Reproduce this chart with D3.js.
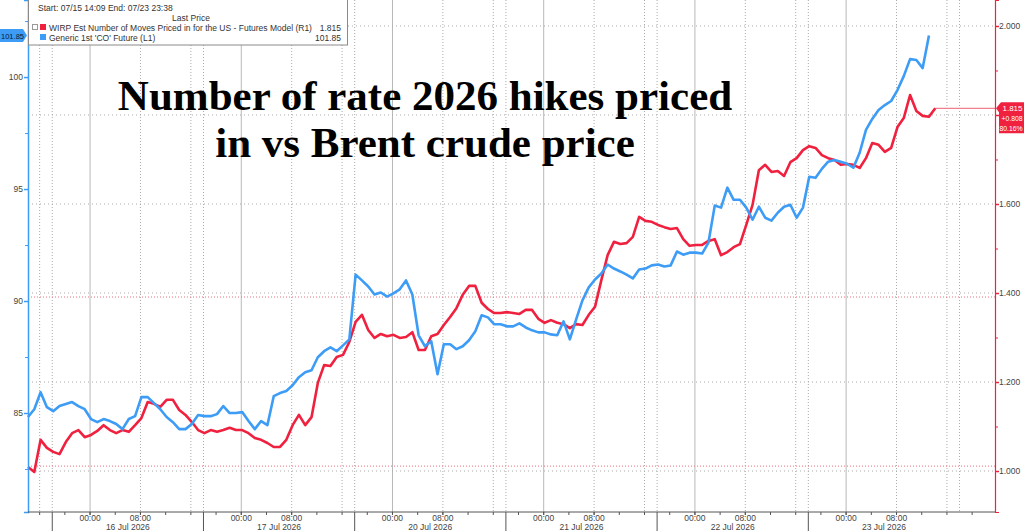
<!DOCTYPE html>
<html><head><meta charset="utf-8">
<script src="https://cdn.jsdelivr.net/npm/d3@7"></script>
<style>body{margin:0;background:#fff;} svg{display:block;}</style>
</head><body><svg id="c" width="1024" height="531"></svg>
<script>
// ---------- data ----------
const sessionDays = ["16 Jul 2026","17 Jul 2026","20 Jul 2026","21 Jul 2026","22 Jul 2026","23 Jul 2026"];
const hourLabels = ["00:00","08:00"];
const leftTicks = [85, 90, 95, 100];
const rightTicks = [1.0, 1.2, 1.4, 1.6, 1.8, 2.0];
const rightTickLabels = ["1.000", "1.200", "1.400", "1.600", "", "2.000"]; // 1.800 hidden behind last-price tag
const refLevels = [1.391, 1.011];
const legendHeader = "Start: 07/15 14:09 End: 07/23 23:38";
const seriesNames = ["WIRP Est Number of Moves Priced in for the US - Futures Model  (R1)", "Generic 1st 'CO' Future  (L1)"];
const lastValues = ["1.815", "101.85"];
const changeLabels = ["+0.808", "80.16%"];
const titleLines = ["Number of rate 2026 hikes priced", "in vs Brent crude price"];
// hourly samples; hour 0 = first session start (15 Jul 18:00), first sample 15 Jul 14:09
const sampleStartHour = -3.85;
const endHour = 149.63;
const brent = [84.82, 85.17, 85.93, 85.26, 85.08, 85.31, 85.40, 85.49, 85.31, 85.17,
 84.73, 84.59, 84.73, 84.64, 84.51, 84.28, 84.73, 84.86, 85.71, 85.71,
 85.44, 85.17, 84.82, 84.59, 84.28, 84.28, 84.51, 84.91, 84.86, 84.86,
 84.95, 85.31, 85.00, 85.00, 85.04, 84.64, 84.28, 84.64, 84.46, 85.75,
 85.89, 85.98, 86.24, 86.60, 86.82, 86.91, 87.49, 87.76, 87.93, 87.76,
 88.02, 88.29, 91.18, 90.92, 90.65, 90.29, 90.38, 90.20, 90.34, 90.52,
 90.92, 90.29, 88.47, 87.98, 88.20, 86.73, 88.07, 88.07, 87.85, 87.98,
 88.25, 88.65, 89.36, 89.27, 88.96, 88.96, 88.87, 88.87, 89.00, 88.82,
 88.69, 88.60, 88.60, 88.51, 88.47, 89.09, 88.29, 89.18, 90.03, 90.61,
 90.96, 91.23, 91.63, 91.45, 91.32, 91.18, 91.01, 91.41, 91.45, 91.59,
 91.63, 91.54, 91.59, 92.21, 92.07, 92.16, 92.16, 92.12, 92.61, 94.26,
 94.17, 95.06, 94.52, 94.52, 94.17, 93.63, 94.21, 93.72, 93.59, 93.94,
 94.21, 94.30, 93.72, 94.17, 95.55, 95.50, 95.90, 96.22, 96.30, 96.22,
 96.13, 95.95, 96.62, 97.64, 98.13, 98.53, 98.75, 98.93, 99.42, 100.04,
 100.80, 100.76, 100.40, 101.85];
const wirp = [1.009, 0.998, 1.070, 1.052, 1.043, 1.038, 1.065, 1.085, 1.092, 1.076,
 1.081, 1.090, 1.103, 1.092, 1.085, 1.092, 1.088, 1.103, 1.119, 1.155,
 1.151, 1.144, 1.160, 1.160, 1.137, 1.126, 1.110, 1.092, 1.085, 1.092,
 1.088, 1.092, 1.097, 1.092, 1.092, 1.085, 1.074, 1.070, 1.063, 1.054,
 1.054, 1.070, 1.103, 1.126, 1.103, 1.121, 1.198, 1.238, 1.236, 1.256,
 1.261, 1.290, 1.335, 1.351, 1.317, 1.299, 1.308, 1.303, 1.306, 1.299,
 1.301, 1.312, 1.272, 1.272, 1.303, 1.308, 1.328, 1.346, 1.366, 1.396,
 1.416, 1.416, 1.378, 1.364, 1.355, 1.355, 1.357, 1.355, 1.353, 1.362,
 1.362, 1.342, 1.333, 1.339, 1.333, 1.330, 1.321, 1.330, 1.328, 1.351,
 1.369, 1.429, 1.485, 1.515, 1.510, 1.512, 1.526, 1.571, 1.562, 1.560,
 1.553, 1.548, 1.544, 1.546, 1.521, 1.506, 1.508, 1.508, 1.517, 1.521,
 1.485, 1.492, 1.503, 1.510, 1.553, 1.598, 1.676, 1.688, 1.672, 1.674,
 1.663, 1.694, 1.703, 1.721, 1.730, 1.726, 1.710, 1.703, 1.699, 1.688,
 1.690, 1.688, 1.681, 1.703, 1.737, 1.733, 1.717, 1.726, 1.773, 1.793,
 1.845, 1.809, 1.798, 1.796, 1.815];

// ---------- layout ----------
const BLUE = "#3d9cf5", RED = "#f0203f", GRID = "#aaaaaa", TXT = "#444";
const L = 28, R = 995, T = 0, B = 512;
const svg = d3.select("#c");
const x = d3.scaleLinear().domain([sampleStartHour, endHour]).range([L, R]);
const yL = d3.scaleLinear().domain([80.58, 103.44]).range([B, T]);
const yR = d3.scaleLinear().domain([0.9079, 2.0584]).range([B, T]);
const font = "'Liberation Sans', Arial, sans-serif";

// vertical gridlines
const nDays = sessionDays.length;
const vSolid = [], vDot = [], minor = [];
for (let k = -1; k <= nDays; k++) {
  const base = k * 24;
  vSolid.push(base + 6);
  [0, 14, 22].forEach(h => vDot.push(base + h));
  for (let h = 0; h < 24; h += 4) minor.push(base + h + 2);
}
const inX = h => h > sampleStartHour && h < endHour;
const g = svg.append("g");
g.selectAll(".vs").data(vSolid.filter(inX)).join("line")
  .attr("x1", d => x(d)).attr("x2", d => x(d)).attr("y1", T).attr("y2", B)
  .attr("stroke", "#b8b8b8").attr("stroke-width", 1);
g.selectAll(".vd").data(vDot.filter(inX)).join("line")
  .attr("x1", d => x(d)).attr("x2", d => x(d)).attr("y1", T).attr("y2", B)
  .attr("stroke", GRID).attr("stroke-width", 1).attr("stroke-dasharray", "1,2");
g.selectAll(".hd").data(rightTicks).join("line")
  .attr("x1", L).attr("x2", R).attr("y1", d => yR(d)).attr("y2", d => yR(d))
  .attr("stroke", GRID).attr("stroke-dasharray", "1,3");
g.selectAll(".hr").data(refLevels).join("line")
  .attr("x1", L).attr("x2", R).attr("y1", d => yR(d)).attr("y2", d => yR(d))
  .attr("stroke", "#f07080").attr("stroke-dasharray", "1,2");

// series
const hoursOf = i => sampleStartHour + i;
const lineR = d3.line().x((d, i) => x(hoursOf(i))).y(d => yR(d));
const lineL = d3.line().x((d, i) => x(hoursOf(i))).y(d => yL(d));
const lastR = wirp[wirp.length - 1];
svg.append("line").attr("x1", x(hoursOf(wirp.length - 1))).attr("x2", R)
  .attr("y1", yR(lastR)).attr("y2", yR(lastR)).attr("stroke", "#f08090").attr("stroke-width", 1.2);
svg.append("path").datum(wirp).attr("d", lineR).attr("fill", "none")
  .attr("stroke", RED).attr("stroke-width", 2.6).attr("stroke-linejoin", "round");
svg.append("path").datum(brent).attr("d", lineL).attr("fill", "none")
  .attr("stroke", BLUE).attr("stroke-width", 2.6).attr("stroke-linejoin", "round");

// left axis
const axL = svg.append("g").attr("transform", `translate(${L},0)`)
  .call(d3.axisLeft(yL).tickValues(leftTicks).tickSize(4).tickFormat(d3.format("d")));
axL.select(".domain").attr("stroke", BLUE).attr("stroke-width", 1.5);
axL.selectAll(".tick line").attr("stroke", BLUE).attr("stroke-width", 1.5);
axL.selectAll("text").attr("fill", TXT).attr("font-family", font).attr("font-size", 8.5).attr("x", -5);
svg.append("g").attr("transform", `translate(${L},0)`)
  .call(d3.axisLeft(yL).tickValues([82.5, 87.5, 92.5, 97.5, 102.5]).tickSize(3).tickFormat(""))
  .call(s => { s.select(".domain").remove(); s.selectAll("line").attr("stroke", BLUE); });

// right axis
const axR = svg.append("g").attr("transform", `translate(${R},0)`)
  .call(d3.axisRight(yR).tickValues(rightTicks).tickSize(4).tickFormat((d, i) => rightTickLabels[i]));
axR.select(".domain").attr("stroke", RED).attr("stroke-width", 1.2);
axR.selectAll(".tick line").attr("stroke", RED).attr("stroke-width", 1.5);
axR.selectAll("text").attr("fill", TXT).attr("font-family", font).attr("font-size", 8.5).attr("x", 4);
svg.append("g").attr("transform", `translate(${R},0)`)
  .call(d3.axisRight(yR).tickValues([1.1, 1.3, 1.5, 1.7, 1.9]).tickSize(3).tickFormat(""))
  .call(s => { s.select(".domain").remove(); s.selectAll("line").attr("stroke", RED); });

// bottom axis
const xa = svg.append("g");
xa.append("line").attr("x1", L).attr("x2", R).attr("y1", B).attr("y2", B).attr("stroke", "#555");
xa.selectAll(".mt").data(minor.filter(inX)).join("line")
  .attr("x1", d => x(d)).attr("x2", d => x(d)).attr("y1", B).attr("y2", B + 3).attr("stroke", "#555");
xa.selectAll(".mt2").data(vSolid.concat(vDot.filter(h => (h % 24 + 24) % 24 === 14)).filter(inX)).join("line")
  .attr("x1", d => x(d)).attr("x2", d => x(d)).attr("y1", B).attr("y2", B + 3).attr("stroke", "#555");
sessionDays.forEach((lab, k) => {
  const base = k * 24;
  xa.append("line").attr("x1", x(base)).attr("x2", x(base)).attr("y1", B).attr("y2", 531).attr("stroke", "#555");
  [6, 14].forEach((h, j) => {
    xa.append("text").attr("x", x(base + h)).attr("y", 521).attr("text-anchor", "middle")
      .attr("font-family", font).attr("font-size", 8.5).attr("fill", TXT).text(hourLabels[j]);
  });
  xa.append("text").attr("x", x(base + 12)).attr("y", 530).attr("text-anchor", "middle")
    .attr("font-family", font).attr("font-size", 8.5).attr("fill", TXT).text(lab);
});

// title
titleLines.forEach((t, i) => {
  svg.append("text").attr("x", 425).attr("y", 110 + i * 47).attr("text-anchor", "middle")
    .attr("font-family", "'Liberation Serif', 'Times New Roman', serif").attr("font-weight", "bold")
    .attr("font-size", 43).attr("fill", "#000").text(t);
});

// legend box
const lg = svg.append("g");
lg.append("rect").attr("x", L + 0.5).attr("y", -1).attr("width", 319).attr("height", 46)
  .attr("fill", "#fff").attr("stroke", "#8a8a8a");
lg.append("text").attr("x", 38).attr("y", 11).attr("font-family", font).attr("font-size", 8.5).attr("fill", "#333").text(legendHeader);
lg.append("text").attr("x", 191).attr("y", 21).attr("text-anchor", "middle").attr("font-family", font).attr("font-size", 8.5).attr("fill", "#333").text("Last Price");
[[RED, 31], [BLUE, 41]].forEach(([c, yy], i) => {
  if (i === 0) lg.append("rect").attr("x", 32.5).attr("y", yy - 6.5).attr("width", 5).attr("height", 5).attr("fill", "#fff").attr("stroke", "#999");
  lg.append("rect").attr("x", 40).attr("y", yy - 7).attr("width", 6).attr("height", 6).attr("fill", c);
  lg.append("text").attr("x", 49).attr("y", yy).attr("font-family", font).attr("font-size", 8.5).attr("fill", "#333").text(seriesNames[i]);
  lg.append("text").attr("x", 341).attr("y", yy).attr("text-anchor", "end").attr("font-family", font).attr("font-size", 8.5).attr("fill", "#333").text(lastValues[i]);
});

// left last-value tag
const yb = yL(brent[brent.length - 1]);
svg.append("path").attr("d", `M0,${yb - 6.5} L23,${yb - 6.5} L27,${yb} L23,${yb + 6.5} L0,${yb + 6.5} Z`).attr("fill", BLUE);
svg.append("text").attr("x", 1).attr("y", yb + 3).attr("font-family", font).attr("font-size", 8)
  .attr("textLength", 23).attr("lengthAdjust", "spacingAndGlyphs").attr("fill", "#0a1a3a").text(lastValues[1]);

// right last-value tag
const yr = yR(lastR);
svg.append("path").attr("d", `M996,${yr} L1001,${yr - 6} L1024,${yr - 6} L1024,${yr + 25} L999,${yr + 25} L999,${yr + 4} Z`).attr("fill", RED);
svg.append("text").attr("x", 1022.5).attr("y", yr + 3).attr("text-anchor", "end")
  .attr("font-family", font).attr("font-size", 8).attr("fill", "#fff").text(lastValues[0]);
changeLabels.forEach((t, i) => {
  svg.append("text").attr("x", 1022.5).attr("y", yr + 13 + i * 10).attr("text-anchor", "end")
    .attr("font-family", font).attr("font-size", 6.8).attr("fill", "#fff").text(t);
});
</script></body></html>
